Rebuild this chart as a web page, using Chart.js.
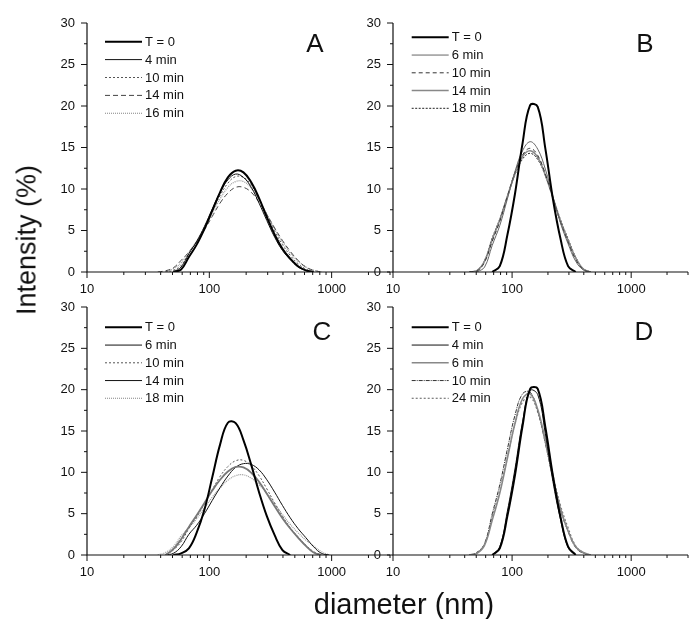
<!DOCTYPE html>
<html><head><meta charset="utf-8">
<script src="https://cdn.jsdelivr.net/npm/chart.js@4/dist/chart.umd.min.js"></script>
<style>
html,body{margin:0;padding:0;background:#fff;}
body{width:697px;height:619px;position:relative;overflow:hidden;font-family:"Liberation Sans",Arial,sans-serif;}
canvas{position:absolute;}
.ytitle{position:absolute;left:27px;top:240px;transform:translate(-50%,-50%) rotate(-90deg);font-size:27px;white-space:nowrap;color:#111;}
.xtitle{position:absolute;left:404px;top:604px;transform:translate(-50%,-50%);font-size:29px;white-space:nowrap;color:#111;}
</style></head><body>
<canvas id="cA" width="400" height="305" style="left:0;top:0"></canvas>
<canvas id="cB" width="353" height="305" style="left:345px;top:0"></canvas>
<canvas id="cC" width="400" height="305" style="left:0;top:284px"></canvas>
<canvas id="cD" width="353" height="305" style="left:345px;top:284px"></canvas>
<div class="ytitle">Intensity (%)</div>
<div class="xtitle">diameter (nm)</div>
<script>
// ---- data ----
const diameters = [37.84, 43.82, 50.75, 58.77, 68.06, 78.82, 91.28, 105.7, 122.4, 141.8, 164.2, 190.1, 220.2, 255.0, 295.3, 342.0, 396.1, 458.7, 531.2, 615.1, 712.4, 825.0, 955.4];
const xMajorTicks = [10, 100, 1000];
const xMinorTicks = [20, 30, 40, 50, 60, 70, 80, 90, 200, 300, 400, 500, 600, 700, 800, 900, 2000, 3000];
const yMajorTicks = [0, 5, 10, 15, 20, 25, 30];
const yMinorTicks = [2.5, 7.5, 12.5, 17.5, 22.5, 27.5];

const labelsA = ['T = 0', '4 min', '10 min', '14 min', '16 min'];
const A_T0    = [0, 0, 0, 0.3, 1.8, 3.3, 5.2, 7.4, 9.6, 11.4, 12.2, 12.0, 10.8, 8.9, 6.6, 4.5, 2.8, 1.6, 0.7, 0.2, 0, 0, 0];
const A_4min  = [0, 0, 0, 0.6, 2.2, 3.7, 5.5, 7.6, 9.6, 11.1, 11.8, 11.4, 10.2, 8.3, 6.2, 4.2, 2.6, 1.5, 0.6, 0.2, 0, 0, 0];
const A_10min = [0, 0, 0.2, 0.8, 2.25, 3.6, 5.4, 7.3, 9.2, 10.7, 11.5, 11.4, 10.5, 8.8, 6.9, 4.9, 3.3, 2.0, 1.0, 0.35, 0, 0, 0];
const A_14min = [0, 0.15, 0.5, 1.4, 2.4, 3.65, 5.1, 6.7, 8.3, 9.5, 10.2, 10.2, 9.6, 8.4, 6.9, 5.3, 3.8, 2.5, 1.4, 0.6, 0.2, 0, 0];
const A_16min = [0, 0, 0.4, 1.1, 2.4, 3.7, 5.3, 7.1, 8.8, 10.2, 10.9, 10.9, 10.1, 8.7, 7.0, 5.2, 3.6, 2.3, 1.3, 0.6, 0.2, 0, 0];

const labelsB = ['T = 0', '6 min', '10 min', '14 min', '18 min'];
const B_T0    = [0, 0, 0, 0, 0, 0.7, 4.45, 9.4, 15.5, 20.1, 19.9, 14.9, 8.8, 4.0, 0.7, 0, 0, 0, 0, 0, 0, 0, 0];
const B_6min  = [0, 0, 0, 0.6, 3.2, 5.6, 8.8, 12.1, 14.6, 15.7, 14.8, 12.4, 9.1, 5.9, 3.4, 1.3, 0.25, 0, 0, 0, 0, 0, 0];
const B_10min = [0, 0, 0.1, 1.2, 3.7, 6.1, 9.1, 12.0, 14.1, 14.9, 14.05, 11.8, 8.9, 6.0, 3.6, 1.5, 0.3, 0, 0, 0, 0, 0, 0];
const B_14min = [0, 0, 0.15, 1.3, 3.9, 6.3, 9.1, 11.85, 13.9, 14.6, 13.8, 11.7, 8.95, 6.15, 3.8, 1.7, 0.35, 0, 0, 0, 0, 0, 0];
const B_18min = [0, 0, 0.2, 1.4, 4.1, 6.4, 9.1, 11.7, 13.6, 14.3, 13.55, 11.6, 9.0, 6.3, 4.0, 1.8, 0.4, 0, 0, 0, 0, 0, 0];

const labelsC = ['T = 0', '6 min', '10 min', '14 min', '18 min'];
const C_T0    = [0, 0, 0, 0.2, 0.8, 2.7, 5.5, 9.4, 13.35, 16.0, 15.95, 13.9, 10.9, 7.6, 4.7, 2.4, 0.6, 0, 0, 0, 0, 0, 0];
const C_6min  = [0, 0, 0.7, 1.9, 3.4, 4.8, 6.3, 7.8, 9.1, 10.1, 10.65, 10.6, 9.95, 8.85, 7.4, 5.9, 4.45, 3.2, 2.1, 1.1, 0.3, 0, 0];
const C_10min = [0, 0, 0.6, 1.6, 3.2, 4.6, 6.2, 7.9, 9.5, 10.7, 11.4, 11.45, 10.8, 9.6, 8.0, 6.3, 4.7, 3.3, 2.2, 1.2, 0.4, 0, 0];
const C_14min = [0, 0, 0.2, 1.0, 2.5, 3.6, 5.0, 6.6, 8.15, 9.55, 10.6, 11.05, 10.95, 10.3, 9.1, 7.6, 6.0, 4.5, 3.2, 2.1, 1.0, 0.2, 0];
const C_18min = [0, 0.3, 1.0, 2.3, 3.3, 4.4, 5.7, 7.0, 8.1, 9.05, 9.6, 9.7, 9.3, 8.5, 7.5, 6.2, 4.9, 3.7, 2.7, 1.8, 1.1, 0.4, 0];

const labelsD = ['T = 0', '4 min', '6 min', '10 min', '24 min'];
const D_T0    = [0, 0, 0, 0, 0, 0.8, 4.7, 9.65, 15.6, 20.1, 20.1, 15.5, 9.6, 4.6, 1.0, 0, 0, 0, 0, 0, 0, 0, 0];
const D_4min  = [0, 0, 0, 0, 0, 1.0, 5.3, 10.4, 16.1, 19.9, 19.4, 14.7, 8.9, 4.3, 0.9, 0, 0, 0, 0, 0, 0, 0, 0];
const D_6min  = [0, 0, 0.2, 1.2, 4.2, 7.5, 11.7, 15.9, 18.9, 19.5, 17.6, 13.8, 9.45, 5.6, 2.9, 1.0, 0.3, 0, 0, 0, 0, 0, 0];
const D_10min = [0, 0, 0.3, 1.4, 4.96, 8.5, 12.8, 16.9, 19.5, 19.7, 17.4, 13.5, 9.2, 5.45, 2.85, 0.9, 0.2, 0, 0, 0, 0, 0, 0];
const D_24min = [0, 0, 0.3, 1.3, 4.55, 7.8, 11.9, 15.8, 18.5, 19.1, 17.3, 13.8, 9.7, 6.0, 3.3, 1.1, 0.3, 0, 0, 0, 0, 0, 0];

// ---- styles ----
const stylesA = [
  {color: '#000', width: 2},
  {color: '#111', width: 1},
  {color: '#555', width: 1, dash: [2, 2]},
  {color: '#444', width: 1, dash: [5, 3]},
  {color: '#999', width: 1.2, dash: [1, 1]}
];
const stylesB = [
  {color: '#000', width: 2},
  {color: '#666', width: 1},
  {color: '#333', width: 1, dash: [4, 3]},
  {color: '#888', width: 1.6},
  {color: '#222', width: 1, dash: [2, 1.5]}
];
const stylesC = [
  {color: '#000', width: 2},
  {color: '#777', width: 1.8},
  {color: '#555', width: 1, dash: [2, 2]},
  {color: '#111', width: 1},
  {color: '#999', width: 1.2, dash: [1, 1]}
];
const stylesD = [
  {color: '#000', width: 2},
  {color: '#111', width: 1},
  {color: '#888', width: 1.6},
  {color: '#333', width: 1, dash: [4, 1, 1, 1]},
  {color: '#777', width: 1.2, dash: [2, 2]}
];

const YW = 40, XH = 30;
const FONT = '"Liberation Sans", Arial, sans-serif';

function toPoints(vals) {
  let first = vals.findIndex(v => v > 0);
  let last = vals.length - 1 - [...vals].reverse().findIndex(v => v > 0);
  const s = Math.max(first - 1, 0), e = Math.min(last + 1, vals.length - 1);
  const pts = [];
  for (let i = s; i <= e; i++) pts.push({x: diameters[i], y: vals[i]});
  return pts;
}

const axesPlugin = {
  id: 'axesDraw',
  afterDatasetsDraw(chart) {
    const {ctx, chartArea: a, scales: {x, y}} = chart;
    ctx.save();
    ctx.strokeStyle = '#111';
    ctx.lineWidth = 1.2;
    ctx.beginPath();
    ctx.moveTo(a.left, a.top);
    ctx.lineTo(a.left, a.bottom);
    ctx.lineTo(a.right, a.bottom);
    ctx.stroke();
    ctx.lineWidth = 1;
    ctx.beginPath();
    yMajorTicks.forEach(v => { const p = y.getPixelForValue(v); ctx.moveTo(a.left - 6, p); ctx.lineTo(a.left, p); });
    yMinorTicks.forEach(v => { const p = y.getPixelForValue(v); ctx.moveTo(a.left - 3, p); ctx.lineTo(a.left, p); });
    xMajorTicks.forEach(v => { const p = x.getPixelForValue(v); ctx.moveTo(p, a.bottom); ctx.lineTo(p, a.bottom + 6); });
    xMinorTicks.forEach(v => { const p = x.getPixelForValue(v); ctx.moveTo(p, a.bottom); ctx.lineTo(p, a.bottom + 3); });
    ctx.stroke();
    ctx.restore();
  }
};

const decoPlugin = {
  id: 'deco',
  afterDraw(chart, args, o) {
    const {ctx, chartArea: a} = chart;
    ctx.save();
    ctx.fillStyle = '#111';
    ctx.font = '26px ' + FONT;
    ctx.textAlign = 'center';
    ctx.textBaseline = 'alphabetic';
    ctx.fillText(o.letter, a.left + o.letterX, a.top + o.letterY);
    ctx.font = '13px ' + FONT;
    ctx.textAlign = 'left';
    ctx.textBaseline = 'middle';
    chart.data.datasets.forEach((ds, i) => {
      const yy = a.top + o.legY + i * o.legStep;
      const x0 = a.left + o.legX;
      ctx.beginPath();
      ctx.strokeStyle = ds.borderColor;
      ctx.lineWidth = ds.borderWidth;
      ctx.setLineDash(ds.borderDash || []);
      ctx.moveTo(x0, yy);
      ctx.lineTo(x0 + 37, yy);
      ctx.stroke();
      ctx.setLineDash([]);
      ctx.fillStyle = '#111';
      ctx.fillText(ds.label, x0 + 40, yy + 0.5);
    });
    ctx.restore();
  }
};

function makeChart(id, area, labels, series, styles, deco) {
  const cv = document.getElementById(id);
  new Chart(cv, {
    type: 'line',
    data: {
      datasets: series.map((s, i) => ({
        label: labels[i],
        data: toPoints(s),
        borderColor: styles[i].color,
        borderWidth: styles[i].width,
        borderDash: styles[i].dash || [],
        pointRadius: 0,
        tension: 0.4,
        fill: false
      }))
    },
    options: {
      responsive: false,
      animation: false,
      devicePixelRatio: 1,
      layout: {padding: {left: area.left - YW, top: area.top, right: cv.width - area.right, bottom: cv.height - area.bottom - XH}},
      plugins: {legend: {display: false}, tooltip: {enabled: false}, deco: deco},
      scales: {
        x: {
          type: 'logarithmic', min: 10, max: 3000,
          grid: {display: false, drawTicks: false},
          border: {display: false},
          afterBuildTicks: sc => { sc.ticks = [...xMajorTicks, ...xMinorTicks].sort((p, q) => p - q).map(v => ({value: v})); },
          afterFit: sc => { sc.height = XH; },
          ticks: {autoSkip: false, maxRotation: 0, minRotation: 0, padding: 10, color: '#111', font: {size: 13, family: FONT},
                  callback: v => xMajorTicks.includes(v) ? String(v) : ''}
        },
        y: {
          min: 0, max: 30,
          grid: {display: false, drawTicks: false},
          border: {display: false},
          afterBuildTicks: sc => { sc.ticks = yMajorTicks.map(v => ({value: v})); },
          afterFit: sc => { sc.width = YW; },
          ticks: {padding: 12, color: '#111', font: {size: 13, family: FONT}}
        }
      }
    },
    plugins: [axesPlugin, decoPlugin]
  });
}

makeChart('cA', {left: 87, top: 23, right: 392, bottom: 272}, labelsA,
  [A_T0, A_4min, A_10min, A_14min, A_16min], stylesA,
  {letter: 'A', letterX: 228, letterY: 29, legX: 18, legY: 18.7, legStep: 17.9});
makeChart('cB', {left: 48, top: 23, right: 353, bottom: 272}, labelsB,
  [B_T0, B_6min, B_10min, B_14min, B_18min], stylesB,
  {letter: 'B', letterX: 252, letterY: 29, legX: 18.7, legY: 14.3, legStep: 17.75});
makeChart('cC', {left: 87, top: 23, right: 392, bottom: 271}, labelsC,
  [C_T0, C_6min, C_10min, C_14min, C_18min], stylesC,
  {letter: 'C', letterX: 235, letterY: 33, legX: 18, legY: 20.3, legStep: 17.75});
makeChart('cD', {left: 48, top: 23, right: 353, bottom: 271}, labelsD,
  [D_T0, D_4min, D_6min, D_10min, D_24min], stylesD,
  {letter: 'D', letterX: 251, letterY: 33, legX: 18.7, legY: 20.3, legStep: 17.75});
</script>
</body></html>
